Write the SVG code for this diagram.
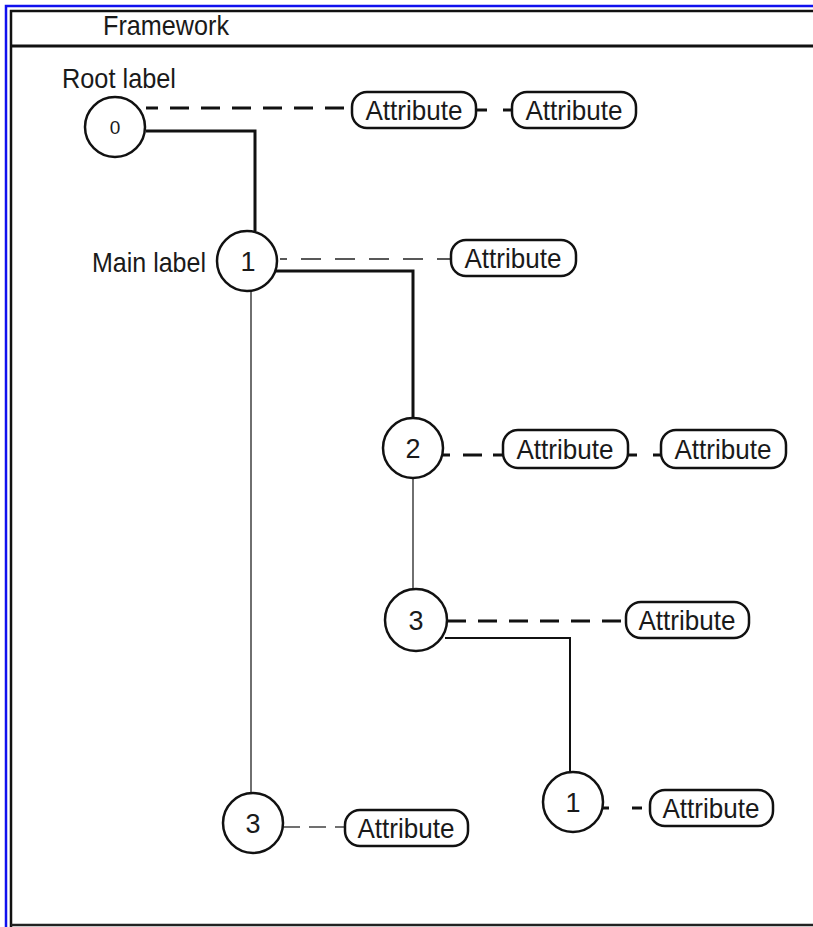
<svg xmlns="http://www.w3.org/2000/svg" width="813" height="927" viewBox="0 0 813 927">
<style>
text{font-family:"Liberation Sans",Arial,sans-serif;fill:#1a1a1a}
.lbl{font-size:28px}
.att{font-size:28px;text-anchor:middle}
.num{font-size:27px;text-anchor:middle}
.node circle{fill:#fff;stroke:#111;stroke-width:2.5}
.pill rect{fill:#fff;stroke:#111;stroke-width:2.5}
.thick{stroke:#111;stroke-width:3;fill:none}
.med{stroke:#111;stroke-width:2;fill:none}
.thin{stroke:#222;stroke-width:1.3;fill:none}
.dthick{stroke:#111;stroke-width:3;fill:none;stroke-dasharray:19 12}
.dthin{stroke:#222;stroke-width:1.5;fill:none;stroke-dasharray:20 14}
</style>
<rect x="0" y="0" width="813" height="927" fill="#fff"/>
<g id="frame">
<path d="M6 927 V6 H813" fill="none" stroke="#1010ee" stroke-width="2.5"/>
<path d="M11 927 V11 H813" fill="none" stroke="#111" stroke-width="2.5"/>
<line x1="11" y1="925" x2="813" y2="925" stroke="#222" stroke-width="2.5"/>
<line x1="11" y1="46" x2="813" y2="46" stroke="#111" stroke-width="3"/>
<text class="lbl" x="103" y="35" textLength="126" lengthAdjust="spacingAndGlyphs">Framework</text>
</g>
<g id="connectors">
<line class="dthick" x1="146" y1="108" x2="352" y2="108" stroke-dashoffset="7"/>
<line class="thick" x1="477" y1="110" x2="487" y2="110"/>
<line class="thick" x1="503" y1="110" x2="512" y2="110"/>
<path class="thick" d="M146 131 H255 V231"/>
<line class="dthin" x1="280" y1="259" x2="451" y2="259" stroke-dashoffset="13"/>
<path class="thick" d="M276 271 H413 V418"/>
<line class="thin" x1="251" y1="291" x2="251" y2="793"/>
<line class="thick" x1="443" y1="455" x2="450" y2="455"/>
<line class="thick" x1="463" y1="455" x2="482" y2="455"/>
<line class="thick" x1="493" y1="455" x2="503" y2="455"/>
<line class="thick" x1="628" y1="455" x2="637" y2="455"/>
<line class="thick" x1="653" y1="455" x2="662" y2="455"/>
<line class="thin" x1="413" y1="478" x2="413" y2="590"/>
<line class="dthick" x1="447" y1="621" x2="626" y2="621" stroke-dasharray="20 12"/>
<path class="med" d="M445 638 H570 V772"/>
<line class="thick" x1="602" y1="808" x2="609" y2="808"/>
<line class="thick" x1="632" y1="808" x2="642" y2="808"/>
<line class="thin" x1="283" y1="827" x2="300" y2="827" stroke-width="1.6"/>
<line class="thin" x1="309" y1="827" x2="326" y2="827" stroke-width="1.6"/>
<line class="thin" x1="335" y1="827" x2="345" y2="827" stroke-width="1.6"/>
</g>
<g id="root-label"><text class="lbl" x="62" y="88" textLength="114" lengthAdjust="spacingAndGlyphs">Root label</text></g>
<g id="main-label"><text class="lbl" x="92" y="272" textLength="114" lengthAdjust="spacingAndGlyphs">Main label</text></g>
<g id="node0" class="node"><circle cx="115" cy="127" r="30"/><text class="num" x="115" y="134" style="font-size:19px">0</text></g>
<g id="node1a" class="node"><circle cx="247" cy="261" r="30"/><text class="num" x="248" y="271">1</text></g>
<g id="node2" class="node"><circle cx="413" cy="448" r="30"/><text class="num" x="413" y="458">2</text></g>
<g id="node3a" class="node"><circle cx="416" cy="620" r="31"/><text class="num" x="416" y="630">3</text></g>
<g id="node1b" class="node"><circle cx="573" cy="802" r="30"/><text class="num" x="573" y="812">1</text></g>
<g id="node3b" class="node"><circle cx="253" cy="823" r="30"/><text class="num" x="253" y="833">3</text></g>
<g id="attr0a" class="pill"><rect x="352" y="92" width="124" height="36" rx="15"/><text class="att" x="414" y="120" textLength="97" lengthAdjust="spacingAndGlyphs">Attribute</text></g>
<g id="attr0b" class="pill"><rect x="512" y="92" width="124" height="36" rx="15"/><text class="att" x="574" y="120" textLength="97" lengthAdjust="spacingAndGlyphs">Attribute</text></g>
<g id="attr1" class="pill"><rect x="451" y="240" width="125" height="36" rx="15"/><text class="att" x="513" y="268" textLength="97" lengthAdjust="spacingAndGlyphs">Attribute</text></g>
<g id="attr2a" class="pill"><rect x="503" y="430" width="125" height="38" rx="15"/><text class="att" x="565" y="459" textLength="97" lengthAdjust="spacingAndGlyphs">Attribute</text></g>
<g id="attr2b" class="pill"><rect x="661" y="430" width="125" height="38" rx="15"/><text class="att" x="723" y="459" textLength="97" lengthAdjust="spacingAndGlyphs">Attribute</text></g>
<g id="attr3a" class="pill"><rect x="626" y="602" width="123" height="36" rx="15"/><text class="att" x="687" y="630" textLength="97" lengthAdjust="spacingAndGlyphs">Attribute</text></g>
<g id="attr1b" class="pill"><rect x="650" y="790" width="123" height="36" rx="15"/><text class="att" x="711" y="818" textLength="97" lengthAdjust="spacingAndGlyphs">Attribute</text></g>
<g id="attr3b" class="pill"><rect x="345" y="810" width="123" height="36" rx="15"/><text class="att" x="406" y="838" textLength="97" lengthAdjust="spacingAndGlyphs">Attribute</text></g>
</svg>
